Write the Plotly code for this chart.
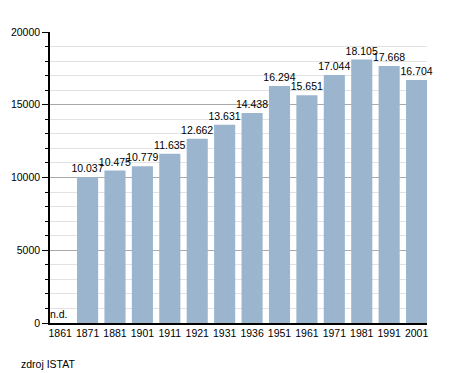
import plotly.graph_objects as go

years = ["1861", "1871", "1881", "1901", "1911", "1921", "1931", "1936",
         "1951", "1961", "1971", "1981", "1991", "2001"]
population = [None, 10037, 10475, 10779, 11635, 12662, 13631, 14438,
              16294, 15651, 17044, 18105, 17668, 16704]
labels = ["" if v is None else f"{v:,}".replace(",", ".") for v in population]
y_ticks = [0, 5000, 10000, 15000, 20000]

FONT = "Liberation Sans, Arial"

fig = go.Figure()
fig.add_trace(go.Bar(
    x=years, y=population, text=labels, textposition="outside",
    cliponaxis=False, constraintext="none", textangle=0,
    textfont=dict(family=FONT, size=10.5, color="black"),
    marker=dict(color="#9cb5cf", line=dict(width=0)),
))
fig.add_annotation(x=0, y=0, text="n.d.", showarrow=False,
                   yanchor="bottom", xanchor="center", xshift=-1, yshift=1,
                   font=dict(family=FONT, size=10.5, color="black"))
fig.add_annotation(x=0, y=0, xref="paper", yref="paper", xanchor="left",
                   yanchor="top", xshift=-31, yshift=-33,
                   text="zdroj ISTAT", showarrow=False,
                   font=dict(family=FONT, size=10.5, color="black"))
fig.update_layout(
    width=455, height=373,
    margin=dict(l=42, r=36, t=24, b=58),
    paper_bgcolor="white", plot_bgcolor="white",
    bargap=0.23, showlegend=False,
    font=dict(family=FONT, size=10.5, color="black"),
)
fig.update_xaxes(type="category", range=[-0.37, len(years) - 0.62],
                 showline=True, linecolor="black", linewidth=1.5,
                 ticks="", tickangle=0, automargin=False,
                 tickfont=dict(size=10.5), showgrid=False)
fig.update_yaxes(range=[0, 20000], tickmode="array", tickvals=y_ticks,
                 ticktext=[str(v) for v in y_ticks], showgrid=True,
                 gridcolor="#aaaaaa", gridwidth=1, zeroline=False,
                 showline=True, linecolor="black", linewidth=1.5,
                 ticks="outside", ticklen=6, tickcolor="black",
                 automargin=False,
                 minor=dict(dtick=1000, showgrid=True, gridcolor="#e2e2e2",
                            ticks="outside", ticklen=3, tickcolor="black"),
                 tickfont=dict(size=10.5))
fig.write_html("out.html")
